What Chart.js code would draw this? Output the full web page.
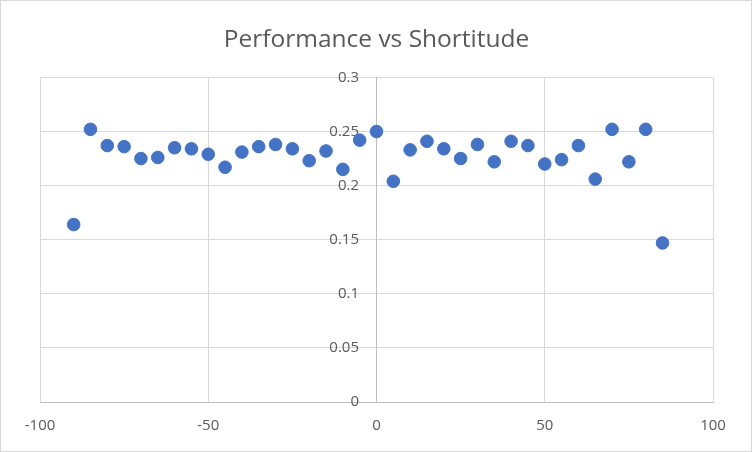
<!DOCTYPE html>
<html>
<head>
<meta charset="utf-8">
<script src="https://cdn.jsdelivr.net/npm/chart.js@4"></script>
<style>
  body { margin: 0; background: #fff; }
  #wrap { width: 752px; height: 452px; }
</style>
</head>
<body>
<div id="wrap"><canvas id="perfChart" width="752" height="452"></canvas></div>
<script>
// shortitude (x) and performance (y)
var shortitude = [-90, -85, -80, -75, -70, -65, -60, -55, -50, -45, -40, -35, -30, -25, -20, -15, -10, -5,
                  0, 5, 10, 15, 20, 25, 30, 35, 40, 45, 50, 55, 60, 65, 70, 75, 80, 85];
var performance = [0.164, 0.252, 0.237, 0.236, 0.225, 0.226, 0.235, 0.234, 0.229, 0.217, 0.231, 0.236, 0.238, 0.234, 0.223, 0.232, 0.215, 0.242,
                   0.250, 0.204, 0.233, 0.241, 0.234, 0.225, 0.238, 0.222, 0.241, 0.237, 0.220, 0.224, 0.237, 0.206, 0.252, 0.222, 0.252, 0.147];

var points = shortitude.map(function (x, i) { return { x: x, y: performance[i] }; });

var frame = {
  id: 'frame',
  afterDraw: function (chart) {
    var c = chart.ctx;
    c.save();
    c.strokeStyle = '#d9d9d9';
    c.lineWidth = 1;
    c.strokeRect(0.5, 0.5, chart.width - 1, chart.height - 1);
    c.restore();
  }
};

var ctx = document.getElementById('perfChart').getContext('2d');
var perfChart = new Chart(ctx, {
  type: 'scatter',
  data: {
    datasets: [{
      label: 'Performance',
      data: points,
      backgroundColor: '#4472C4',
      borderColor: '#4472C4',
      pointRadius: 6.3,
      pointHoverRadius: 6.3
    }]
  },
  options: {
    responsive: false,
    animation: false,
    layout: { padding: { left: 40, right: 39, top: 0, bottom: 2 } },
    plugins: {
      legend: { display: false },
      tooltip: { enabled: false },
      title: {
        display: true,
        text: 'Performance vs Shortitude',
        color: '#595959',
        font: { family: 'Open Sans', size: 24.5, weight: 'normal' },
        padding: { top: 25, bottom: 23 }
      }
    },
    scales: {
      x: {
        type: 'linear',
        min: -100,
        max: 100,
        grid: { color: '#d9d9d9', drawTicks: false },
        border: { color: '#bfbfbf' },
        ticks: {
          stepSize: 50,
          padding: 15,
          color: '#595959',
          font: { family: 'Open Sans', size: 15 }
        }
      },
      y: {
        position: { x: 0 },
        min: 0,
        max: 0.3,
        grid: { color: '#d9d9d9', drawTicks: false },
        border: { color: '#bfbfbf' },
        ticks: {
          stepSize: 0.05,
          color: '#595959',
          font: { family: 'Open Sans', size: 15 },
          // labels sit left of the axis line at x = 0, pad with spaces
          callback: function (v) { return String(+v.toFixed(2)) + '\u2002\u2002\u2009'; }
        }
      }
    }
  },
  plugins: [frame]
});
</script>
</body>
</html>
